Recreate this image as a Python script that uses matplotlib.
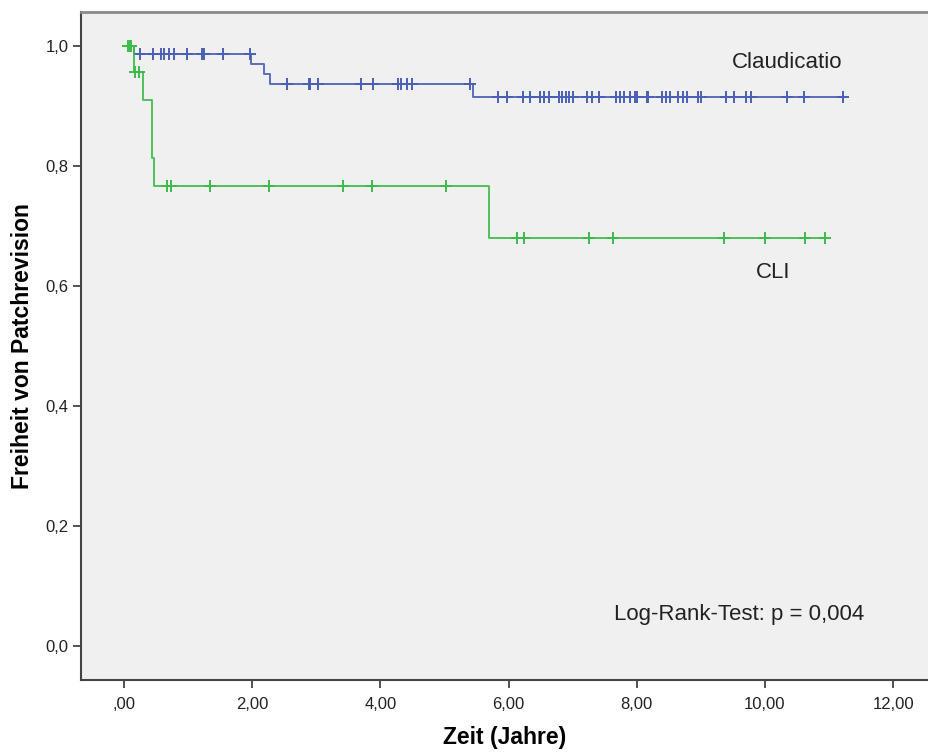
import numpy as np
import matplotlib.pyplot as plt
from matplotlib.ticker import FuncFormatter

plt.rcParams["font.family"] = ["Liberation Sans", "DejaVu Sans"]

# Kaplan-Meier Stufen (Zeit in Jahren, Freiheit von Patchrevision)
claud_times = [0.0, 0.15, 1.99, 2.18, 2.28, 5.45]
claud_surv = [1.0, 0.987, 0.971, 0.954, 0.937, 0.916]
claud_cens = [0.25, 0.45, 0.58, 0.63, 0.70, 0.78, 0.99, 1.22, 1.25, 1.55, 1.97,
              2.55, 2.89, 2.91, 3.03, 3.70, 3.89, 4.28, 4.33, 4.41, 4.49, 5.40,
              5.83, 5.97, 6.22, 6.34, 6.49, 6.56, 6.63, 6.79, 6.84, 6.89, 6.94,
              7.00, 7.22, 7.31, 7.41, 7.67, 7.74, 7.80, 7.90, 7.97, 8.01, 8.16,
              8.18, 8.39, 8.46, 8.52, 8.65, 8.72, 8.79, 8.95, 9.01, 9.39, 9.52,
              9.70, 9.78, 10.34, 10.61, 11.22]

cli_times = [0.0, 0.15, 0.29, 0.43, 0.47, 5.70]
cli_surv = [1.0, 0.957, 0.910, 0.814, 0.767, 0.680]
cli_cens = [0.07, 0.09, 0.11, 0.17, 0.24, 0.67, 0.73, 1.34, 2.27, 3.41, 3.87,
            5.02, 6.13, 6.24, 7.26, 7.63, 9.36, 10.00, 10.62, 10.94]

blue = "#4a5fb5"
green = "#3dbb4a"


def level_at(times, surv, t):
    idx = np.searchsorted(times, t, side="right") - 1
    return np.array(surv)[idx]


fig = plt.figure(figsize=(9.29, 7.54), dpi=100)
ax = fig.add_axes([81 / 929, 74 / 754, 1 - 81 / 929, (680 - 12) / 754])
ax.set_facecolor("#f0f0f0")

for times, surv, cens, col in [(claud_times, claud_surv, claud_cens, blue),
                               (cli_times, cli_surv, cli_cens, green)]:
    xs = list(times) + [cens[-1]]
    ys = list(surv) + [surv[-1]]
    ax.step(xs, ys, where="post", color=col, lw=1.4, alpha=0.9)
    ax.plot(cens, level_at(times, surv, cens), ls="none", marker="+",
            ms=9, mew=1.4, color=col)

ax.set_xlim(-0.67, 12.56)
ax.set_ylim(-0.057, 1.057)
ax.set_xticks(np.arange(0, 13, 2))
ax.set_yticks(np.arange(0, 1.01, 0.2))
ax.xaxis.set_major_formatter(FuncFormatter(
    lambda v, p: ",00" if abs(v) < 1e-9 else f"{v:.2f}".replace(".", ",")))
ax.yaxis.set_major_formatter(FuncFormatter(
    lambda v, p: f"{v:.1f}".replace(".", ",")))
ax.tick_params(axis="both", labelsize=12, colors="#222222", length=6,
               width=1.3, direction="out", pad=6)
ax.tick_params(axis="x", color="#444444")
ax.tick_params(axis="y", color="#444444", pad=3)

ax.spines["right"].set_visible(False)
ax.spines["top"].set_color("#8a8a8a")
ax.spines["top"].set_linewidth(2)
for s in ["left", "bottom"]:
    ax.spines[s].set_color("#444444")
    ax.spines[s].set_linewidth(1.5)

ax.set_xlabel("Zeit (Jahre)", fontsize=16.5, fontweight="bold", labelpad=10)
ax.set_ylabel("Freiheit von Patchrevision", fontsize=16.5, fontweight="bold",
              labelpad=8)

ax.text(10.35, 0.973, "Claudicatio", fontsize=16, color="#222222",
        ha="center", va="center")
ax.text(10.13, 0.622, "CLI", fontsize=16, color="#222222",
        ha="center", va="center")
ax.text(9.6, 0.053, "Log-Rank-Test: p = 0,004", fontsize=16, color="#222222",
        ha="center", va="center")

fig.savefig("out.png", dpi=100)
